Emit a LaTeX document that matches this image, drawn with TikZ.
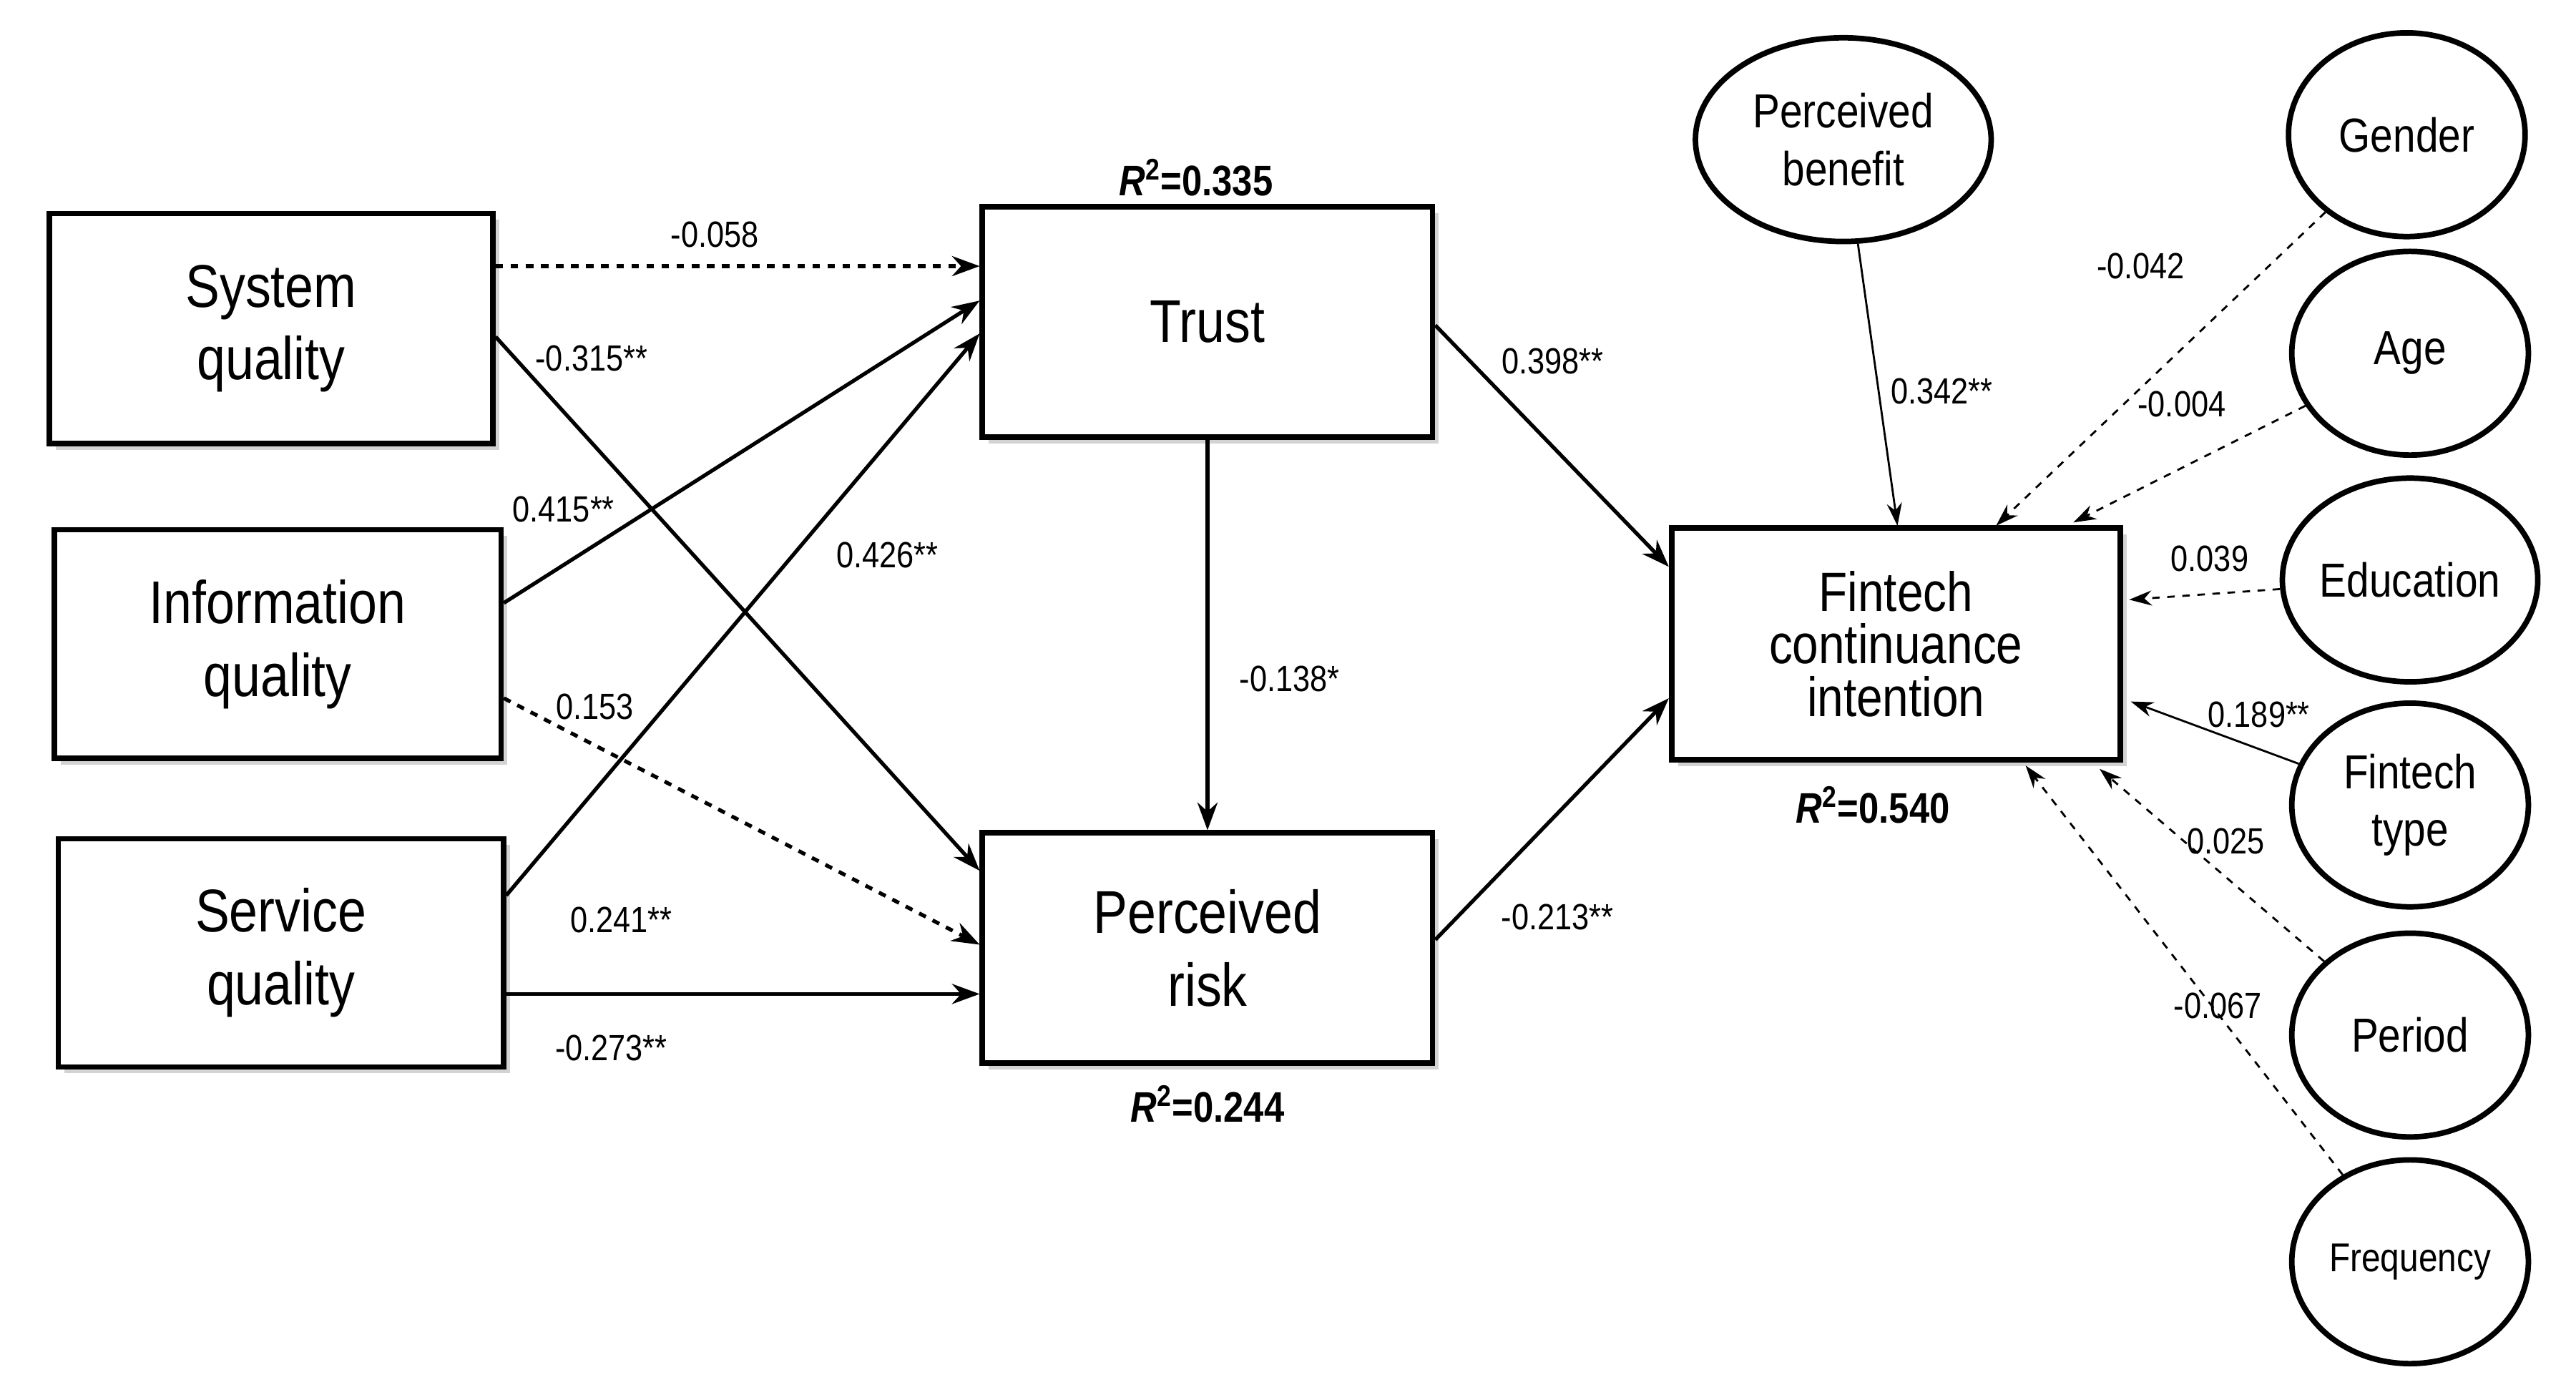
\documentclass[tikz,border=0pt]{standalone}
\usepackage{fontspec}
\setmainfont{Liberation Sans}[FakeStretch=0.85]
\usetikzlibrary{arrows.meta,shadows,calc,shapes.geometric}
\begin{document}
\begin{tikzpicture}[x=0.022966cm,y=-0.022966cm,
  box/.style={draw,line width=2.2pt,fill=white,drop shadow={opacity=0.35,shadow xshift=2.5pt,shadow yshift=-2.5pt},align=center,font=\fontsize{24}{29}\selectfont,inner sep=0pt},
  ell/.style={draw,ellipse,line width=2.2pt,fill=white,align=center,font=\fontsize{19}{23}\selectfont,inner sep=0pt},
  arr/.style={-{Stealth[length=11pt,width=8pt]},line width=1.5pt},
  tarr/.style={-{Stealth[length=9pt,width=6pt]},line width=0.8pt},
  lab/.style={font=\fontsize{14.5}{17}\selectfont},
  rl/.style={font=\bfseries\fontsize{17}{20}\selectfont}]
\useasboundingbox (0,0) rectangle (1568,852);
\node[box,minimum width=270*0.022966cm,minimum height=140*0.022966cm] (sq) at (165,200) {System\\quality};
\node[box,minimum width=272*0.022966cm,minimum height=139*0.022966cm] (iq) at (169,392) {Information\\quality};
\node[box,minimum width=271*0.022966cm,minimum height=139*0.022966cm] (svq) at (171,580) {Service\\quality};
\node[box,minimum width=274*0.022966cm,minimum height=140*0.022966cm] (tr) at (735,196) {Trust};
\node[box,minimum width=274*0.022966cm,minimum height=140*0.022966cm] (pr) at (735,577) {Perceived\\risk};
\node[box,minimum width=273*0.022966cm,minimum height=141*0.022966cm,font=\fontsize{22}{21}\selectfont] (fi) at (1154,392) {Fintech\\continuance\\intention};
\tikzset{e/.style={ell,minimum width=144*0.022966cm,minimum height=124*0.022966cm}}
\node[ell,minimum width=180*0.022966cm,minimum height=124*0.022966cm] (pb) at (1122,85) {Perceived\\benefit};
\node[e] (ge) at (1465,82) {Gender};
\node[e] (ag) at (1467,215) {Age};
\node[e] (ed) at (1467,353) {Education};
\node[e] (ft) at (1467,490) {Fintech\\type};
\node[e] (pe) at (1467,630) {Period};
\node[e,font=\fontsize{16}{20}\selectfont] (fr) at (1467,768) {Frequency};
\node[rl] at (728,108) {\textit{R}\textsuperscript{2}=0.335};
\node[rl] at (735,672) {\textit{R}\textsuperscript{2}=0.244};
\node[rl] at (1140,490) {\textit{R}\textsuperscript{2}=0.540};
% main paths
\draw[arr,dashed] (sq.east |- 0,162) -- (tr.west |- 0,162);
\draw[arr] (sq.east |- 0,205) -- (pr.west |- 0,530);
\draw[arr] (iq.east |- 0,367) -- (tr.west |- 0,183);
\draw[arr,dashed] (iq.east |- 0,425) -- (pr.west |- 0,575);
\draw[arr] (svq.east |- 0,545) -- (tr.west |- 0,203);
\draw[arr] (svq.east |- 0,605) -- (pr.west |- 0,605);
\draw[arr] (tr.south) -- (pr.north);
\draw[arr] (tr.east |- 0,198) -- (fi.west |- 0,345);
\draw[arr] (pr.east |- 0,572) -- (fi.west |- 0,425);
\node[lab] at (435,143) {-0.058};
\node[lab] at (360,218) {-0.315**};
\node[lab] at (343,310) {0.415**};
\node[lab] at (362,430) {0.153};
\node[lab] at (540,338) {0.426**};
\node[lab] at (378,560) {0.241**};
\node[lab] at (372,638) {-0.273**};
\node[lab] at (785,413) {-0.138*};
\node[lab] at (945,220) {0.398**};
\node[lab] at (948,558) {-0.213**};
% controls
\coordinate (c1) at (1155,320);
\coordinate (c2) at (1215,320);
\coordinate (c3) at (1262,318);
\coordinate (c4) at (1296,365);
\coordinate (c5) at (1297,427);
\coordinate (c6) at (1278,468);
\coordinate (c7) at (1233,466);
\draw[tarr] (pb) -- (c1);
\draw[tarr,dashed] (ge) -- (c2);
\draw[tarr,dashed] (ag) -- (c3);
\draw[tarr,dashed] (ed) -- (c4);
\draw[tarr] (ft) -- (c5);
\draw[tarr,dashed] (pe) -- (c6);
\draw[tarr,dashed] (fr) -- (c7);
\node[lab] at (1182,238) {0.342**};
\node[lab] at (1303,162) {-0.042};
\node[lab] at (1328,246) {-0.004};
\node[lab] at (1345,340) {0.039};
\node[lab] at (1375,435) {0.189**};
\node[lab] at (1355,512) {0.025};
\node[lab] at (1350,612) {-0.067};
\end{tikzpicture}
\end{document}
